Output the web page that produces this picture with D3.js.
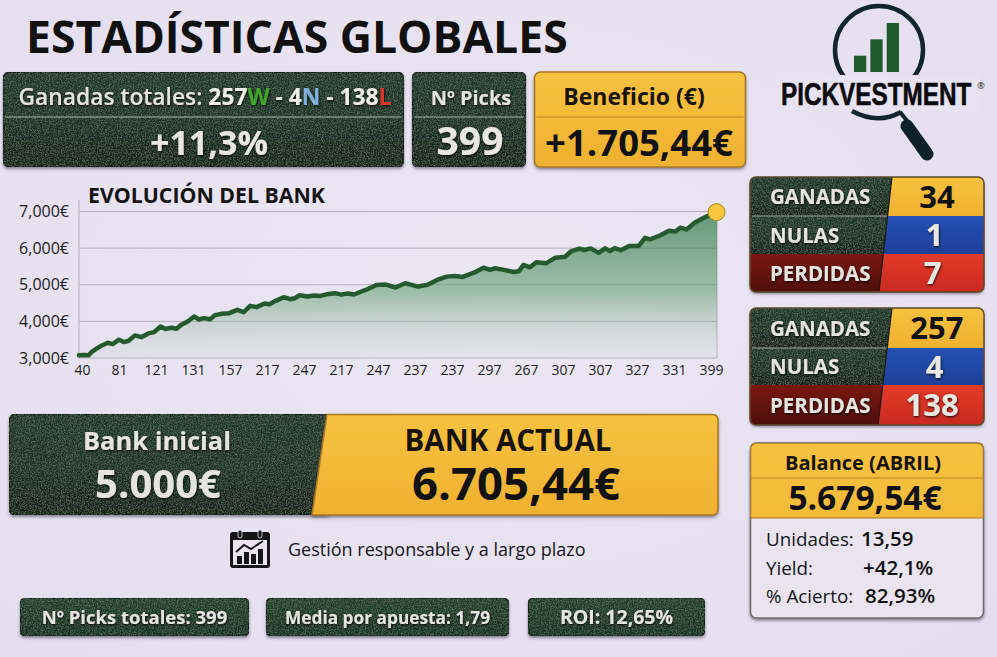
<!DOCTYPE html>
<html>
<head>
<meta charset="utf-8">
<script src="https://cdn.jsdelivr.net/npm/d3@7"></script>
<style>
html, body { margin: 0; padding: 0; background: #e7e2f0; }
svg { display: block; }
text { font-family: "Open Sans", "Noto Sans", sans-serif; }
</style>
</head>
<body>
<svg id="chart" width="997" height="657"></svg>
<script>
// bank curve
var picks = [0,3,6,8,11,14,18,21,25,28,31,35,39,44,47,51,54,58,61,64,68,72,75,78,82,85,89,94,99,103,107,111,116,119,123,128,132,135,138,143,147,151,156,160,164,168,172,177,181,186,192,198,204,208,212,218,224,230,235,240,247,253,257,260,265,272,275,278,282,286,292,298,304,308,313,316,320,325,329,332,335,339,344,350,354,357,363,369,373,376,380,385,392,399];
var bank = [3073,3082,3075,3170,3254,3336,3417,3381,3500,3435,3470,3617,3570,3680,3707,3860,3790,3825,3800,3907,3998,4134,4052,4088,4060,4170,4206,4224,4315,4250,4424,4388,4487,4470,4560,4660,4605,4633,4714,4680,4705,4695,4750,4770,4730,4760,4733,4823,4890,4995,5005,4925,5040,4995,4950,5000,5130,5222,5240,5213,5330,5467,5404,5450,5413,5350,5368,5540,5476,5612,5585,5740,5766,5920,5984,5948,5993,5870,5993,5920,6002,5940,6056,6056,6283,6238,6338,6474,6456,6555,6510,6690,6855,6982];
var xLabels = ["40","81","121","131","157","217","247","217","247","237","237","297","267","307","307","327","331","399"];
var yTicks = [3000,4000,5000,6000,7000];

var tableMes = [34,1,7];
var tableTotal = [257,4,138];
var tableNames = ["GANADAS","NULAS","PERDIDAS"];
var balanceRows = [["Unidades:","13,59"],["Yield:","+42,1%"],["% Acierto:","82,93%"]];
var pills = ["Nº Picks totales: 399","Media por apuesta: 1,79","ROI: 12,65%"];
var logoBars = [1,2,3];

var svg = d3.select("#chart");
var defs = svg.append("defs");

// grain for the dark panels
var grain = defs.append("filter").attr("id","grain").attr("x","0").attr("y","0").attr("width","100%").attr("height","100%");
grain.append("feTurbulence").attr("type","fractalNoise").attr("baseFrequency","0.75").attr("numOctaves","2").attr("seed","4").attr("result","n");
grain.append("feColorMatrix").attr("in","n").attr("type","matrix")
	.attr("values","0 0 0 0 0.45  0 0 0 0 0.58  0 0 0 0 0.45  0 0 0 0.55 -0.23").attr("result","c");
grain.append("feComposite").attr("in","c").attr("in2","SourceAlpha").attr("operator","in").attr("result","d");
var gm = grain.append("feMerge");
gm.append("feMergeNode").attr("in","SourceGraphic");
gm.append("feMergeNode").attr("in","d");

var shadow = defs.append("filter").attr("id","shadow").attr("x","-5%").attr("y","-10%").attr("width","110%").attr("height","125%");
shadow.append("feDropShadow").attr("dx",0).attr("dy",2).attr("stdDeviation",1.6).attr("flood-color","#3a3550").attr("flood-opacity",0.55);
var ts = defs.append("filter").attr("id","ts").attr("x","-10%").attr("y","-20%").attr("width","120%").attr("height","150%");
ts.append("feDropShadow").attr("dx",0.6).attr("dy",1.2).attr("stdDeviation",0.9).attr("flood-color","#000").attr("flood-opacity",0.85);

function vgrad(id, stops) {
	var g = defs.append("linearGradient").attr("id",id).attr("x1",0).attr("y1",0).attr("x2",0).attr("y2",1);
	stops.forEach(function(s){ g.append("stop").attr("offset",s[0]).attr("stop-color",s[1]).attr("stop-opacity",s[2] == null ? 1 : s[2]); });
}
vgrad("dark",[[0,"#20352a"],[0.5,"#1c3225"],[1,"#121f18"]]);
vgrad("pillg",[[0,"#21402a"],[1,"#172f20"]]);
vgrad("gold",[[0,"#f6c240"],[1,"#efb130"]]);
vgrad("blue",[[0,"#2450b4"],[1,"#1f3f98"]]);
vgrad("red",[[0,"#e23a28"],[1,"#c92a20"]]);
vgrad("dred",[[0,"#7a1710"],[1,"#4f0f0c"]]);
vgrad("area",[[0,"#2f7a45",0.72],[0.55,"#5f9d6f",0.55],[1,"#bcd0c0",0.12]]);

var bg = defs.append("radialGradient").attr("id","bg").attr("cx","0.5").attr("cy","0.45").attr("r","0.8");
bg.append("stop").attr("offset",0).attr("stop-color","#ece7f3");
bg.append("stop").attr("offset",1).attr("stop-color","#e3ddee");
svg.append("rect").attr("width",997).attr("height",657).attr("fill","url(#bg)");

function label(parent, x, y, txt, size, fill, opts) {
	opts = opts || {};
	var t = parent.append("text").attr("x",x).attr("y",y).attr("font-size",size).attr("fill",fill)
		.attr("font-weight",opts.weight || 700).attr("text-anchor",opts.anchor || "middle").text(txt);
	if (opts.shadow) t.attr("filter","url(#ts)");
	return t;
}

// rounded panel with optional divider
function panel(x, y, w, h, fill, stroke, grainy, dividers) {
	var g = svg.append("g").attr("filter","url(#shadow)");
	var r = g.append("rect").attr("x",x).attr("y",y).attr("width",w).attr("height",h).attr("rx",6)
		.attr("fill",fill).attr("stroke",stroke).attr("stroke-width",1.5);
	if (grainy) r.attr("filter","url(#grain)");
	(dividers || []).forEach(function(d){
		svg.append("line").attr("x1",x+2).attr("x2",x+w-2).attr("y1",d[0]).attr("y2",d[0]).attr("stroke",d[1]).attr("stroke-width",1);
	});
}

// title
label(svg,26,53,"ESTADÍSTICAS GLOBALES",44.5,"#111",{anchor:"start",weight:700});

// top row
panel(3.5,72,400,95,"url(#dark)","#0d1611",true,[[117,"#a9b3a8"]]);
panel(412.5,72,113,95,"url(#dark)","#0d1611",true,[[117,"#a9b3a8"]]);
panel(534.5,72,211,95,"url(#gold)","#a8761e",false,[[117,"#b98420"]]);

var head = label(svg,205,105,"",22.8,"#e9e7e2",{shadow:true});
[["Ganadas totales: ","#e6e4df",600],["257","#efeeea",700],["W","#3fa52c",700],[" - ","#e6e4df",700],["4","#efeeea",700],["N","#7fb0dc",700],[" - ","#e6e4df",700],["138","#efeeea",700],["L","#d9342a",700]]
	.forEach(function(p){ head.append("tspan").attr("fill",p[1]).attr("font-weight",p[2]).text(p[0]); });
label(svg,209,155,"+11,3%",34,"#e9e7e2",{shadow:true});
label(svg,471,105,"Nº Picks",20,"#e6e4df",{shadow:true});
label(svg,470,155,"399",39,"#e9e7e2",{shadow:true});
label(svg,634,105,"Beneficio (€)",23,"#1a1408");
label(svg,639,156,"+1.705,44€",36.5,"#111");

// chart
var x = d3.scaleLinear().domain([0,399]).range([79,717]);
var y = d3.scaleLinear().domain([3000,7000]).range([358,211.5]);
var xPos = d3.scalePoint().domain(d3.range(xLabels.length)).range([82,711]);

label(svg,88,203,"EVOLUCIÓN DEL BANK",21.3,"#141414",{anchor:"start"});

var yAxis = svg.append("g").attr("transform","translate(79,0)")
	.call(d3.axisLeft(y).tickValues(yTicks).tickSize(0).tickPadding(10).tickFormat(function(d){ return d3.format(",")(d) + "€"; }));
yAxis.select(".domain").remove();
yAxis.selectAll("text").attr("font-size",16).attr("font-weight",500).attr("fill","#1c1c22").style("font-family","'Open Sans'");

svg.append("g").selectAll("line").data(yTicks).join("line")
	.attr("x1",x(0)).attr("x2",x(399)).attr("y1",function(d){ return y(d); }).attr("y2",function(d){ return y(d); })
	.attr("stroke","#b3adbe").attr("stroke-width",1);
svg.append("line").attr("x1",79).attr("x2",79).attr("y1",200).attr("y2",358).attr("stroke","#b3adbe");
svg.append("line").attr("x1",717).attr("x2",717).attr("y1",212).attr("y2",358).attr("stroke","#b3adbe");

var series = picks.map(function(p,i){ return [p,bank[i]]; });
svg.append("path").datum(series)
	.attr("d",d3.area().x(function(d){ return x(d[0]); }).y0(y(3000)).y1(function(d){ return y(d[1]); }))
	.attr("fill","url(#area)");
svg.append("path").datum(series)
	.attr("d",d3.line().x(function(d){ return x(d[0]); }).y(function(d){ return y(d[1]); }))
	.attr("fill","none").attr("stroke","#25592e").attr("stroke-width",4.5).attr("stroke-linejoin","round").attr("stroke-linecap","round");
svg.append("circle").attr("cx",x(399)-0.5).attr("cy",y(bank[bank.length-1])).attr("r",8.5)
	.attr("fill","#f7c83e").attr("stroke","#a8801e").attr("stroke-width",1);

var xAxis = svg.append("g").attr("transform","translate(0,358)")
	.call(d3.axisBottom(xPos).tickSize(0).tickPadding(7).tickFormat(function(i){ return xLabels[i]; }));
xAxis.select(".domain").remove();
xAxis.selectAll("text").attr("font-size",14).attr("font-weight",500).attr("fill","#1c1c22").style("font-family","'Open Sans'");

// bank boxes
panel(9.5,414,320,101,"url(#dark)","#0d1611",true);
var goldBox = svg.append("g").attr("filter","url(#shadow)");
goldBox.append("path").attr("d","M327,414.5 H712 Q718,414.5 718,420 V509 Q718,515 712,515 H312 Z")
	.attr("fill","url(#gold)").attr("stroke","#a8761e").attr("stroke-width",1.5);
label(svg,157,450,"Bank inicial",25.5,"#e6e4df",{shadow:true});
label(svg,158,498,"5.000€",40,"#e6e4df",{shadow:true});
label(svg,508,451,"BANK ACTUAL",29.5,"#161208");
label(svg,516,500,"6.705,44€",45.5,"#111");

// side tables
var tableFills = ["url(#dark)","url(#dark)","url(#dred)"];
var valueFills = ["url(#gold)","url(#blue)","url(#red)"];
var valueText = ["#111","#e9e7e2","#e9e7e2"];
function sideTable(id, top, bottom, d1, d2, xb, values) {
	var cut = [top,d1,d2,bottom];
	var xAt = d3.scaleLinear().domain([top,bottom]).range([892,xb]);
	defs.append("clipPath").attr("id",id).append("rect").attr("x",750).attr("y",top).attr("width",234).attr("height",bottom-top).attr("rx",6);
	svg.append("rect").attr("x",750).attr("y",top).attr("width",234).attr("height",bottom-top).attr("rx",6).attr("fill","#222").attr("filter","url(#shadow)");
	var g = svg.append("g").attr("clip-path","url(#"+id+")");
	values.forEach(function(v,i){
		var a = cut[i], b = cut[i+1];
		g.append("path").attr("d","M750,"+a+" L"+xAt(a)+","+a+" L"+xAt(b)+","+b+" L750,"+b+" Z")
			.attr("fill",tableFills[i]).attr("filter",i < 2 ? "url(#grain)" : null);
		g.append("path").attr("d","M"+xAt(a)+","+a+" L984,"+a+" L984,"+b+" L"+xAt(b)+","+b+" Z").attr("fill",valueFills[i]);
		label(svg,770,(a+b)/2+7.5,tableNames[i],20.5,"#e6e4df",{anchor:"start",shadow:true});
		label(svg,(xAt((a+b)/2)+984)/2,(a+b)/2+11,v,31,valueText[i],{shadow:i > 0});
	});
	g.append("line").attr("x1",752).attr("x2",xAt(d1)).attr("y1",d1).attr("y2",d1).attr("stroke","#9aa69c");
	svg.append("line").attr("x1",892).attr("x2",xb).attr("y1",top).attr("y2",bottom).attr("stroke","#1a1a14").attr("stroke-width",1.2);
	svg.append("rect").attr("x",750).attr("y",top).attr("width",234).attr("height",bottom-top).attr("rx",6).attr("fill","none").attr("stroke","#5c4a2a").attr("stroke-width",1.5);
}
sideTable("t1",177,292,216,254,879,tableMes);
sideTable("t2",308,425,348,385,878,tableTotal);

// balance
panel(750.5,443,233,175,"#e9e4ef","#6f6a70",false);
defs.append("clipPath").attr("id","bal").append("rect").attr("x",750.5).attr("y",443).attr("width",233).attr("height",75);
svg.append("rect").attr("x",750.5).attr("y",443).attr("width",233).attr("height",175).attr("rx",6).attr("fill","url(#gold)").attr("clip-path","url(#bal)").attr("stroke","#a8761e").attr("stroke-width",1.5);
svg.append("line").attr("x1",751).attr("x2",983).attr("y1",478).attr("y2",478).attr("stroke","#b98420");
svg.append("line").attr("x1",751).attr("x2",983).attr("y1",518).attr("y2",518).attr("stroke","#a8761e");
label(svg,863,470,"Balance (ABRIL)",20,"#17130a");
label(svg,865,510,"5.679,54€",33.5,"#111");
var balX = [861,863,865];
balanceRows.forEach(function(r,i){
	var by = 546 + i*28.5;
	label(svg,766,by,r[0],18.8,"#15151c",{anchor:"start",weight:500});
	label(svg,balX[i],by,r[1],20.5,"#111",{anchor:"start",weight:600});
});

// note + calendar icon
var cal = svg.append("g").attr("transform","translate(230,530)");
cal.append("rect").attr("y",2).attr("width",40).attr("height",36).attr("rx",3).attr("fill","#14141a");
cal.append("rect").attr("x",3).attr("y",10).attr("width",34).attr("height",25).attr("fill","#e9e4ef");
[8,28].forEach(function(cx){ cal.append("rect").attr("x",cx).attr("y",0).attr("width",4).attr("height",8).attr("rx",2).attr("fill","#14141a").attr("stroke","#e9e4ef").attr("stroke-width",0.8); });
[[7,26],[14,22],[21,24],[28,19]].forEach(function(b){ cal.append("rect").attr("x",b[0]).attr("y",b[1]).attr("width",5).attr("height",34-b[1]).attr("fill","#14141a"); });
cal.append("path").attr("d","M6,22 L14,15 L21,19 L33,11").attr("fill","none").attr("stroke","#14141a").attr("stroke-width",2);
label(svg,288,556,"Gestión responsable y a largo plazo",18,"#17171d",{anchor:"start",weight:500});

// bottom pills
var pillBoxes = [[20,229],[266,243],[528,177]];
var pillSizes = [18.5,17.3,19.5];
pills.forEach(function(p,i){
	panel(pillBoxes[i][0],598,pillBoxes[i][1],38,"url(#pillg)","#0d1611",true);
	label(svg,pillBoxes[i][0]+pillBoxes[i][1]/2,624,p,pillSizes[i],"#e6e4df",{shadow:true});
});

// logo
var logo = svg.append("g");
logo.append("circle").attr("cx",879).attr("cy",50).attr("r",44).attr("fill","none").attr("stroke","#11252a").attr("stroke-width",4.5);
logo.append("rect").attr("x",780).attr("y",75).attr("width",200).attr("height",36).attr("fill","#e8e3f0");
logo.append("path").attr("d","M852,111 Q878,125 901,112").attr("fill","none").attr("stroke","#11252a").attr("stroke-width",4.5);
var barX = d3.scaleBand().domain(logoBars).range([854,899]).paddingInner(0.25);
var barY = d3.scaleLinear().domain([0,3]).range([72,23]);
logo.selectAll("rect.lb").data(logoBars).join("rect").attr("class","lb")
	.attr("x",function(d){ return barX(d); }).attr("width",barX.bandwidth())
	.attr("y",function(d){ return barY(d); }).attr("height",function(d){ return 72-barY(d); }).attr("fill","#1e5a2c");
logo.append("line").attr("x1",900).attr("y1",112).attr("x2",908).attr("y2",122).attr("stroke","#11252a").attr("stroke-width",4);
logo.append("line").attr("x1",907).attr("y1",126).attr("x2",927).attr("y2",154).attr("stroke","#0d2226").attr("stroke-width",13).attr("stroke-linecap","round");
logo.append("text").attr("transform","translate(781,105) scale(0.76,1)").attr("font-size",32).attr("font-weight",700).attr("fill","#0c0c10")
	.attr("stroke","#0c0c10").attr("stroke-width",0.6)
	.style("font-family","'Liberation Sans'").text("PICKVESTMENT");
logo.append("text").attr("x",981).attr("y",89).attr("font-size",9).attr("text-anchor","middle").attr("fill","#222").text("®");
</script>
</body>
</html>
